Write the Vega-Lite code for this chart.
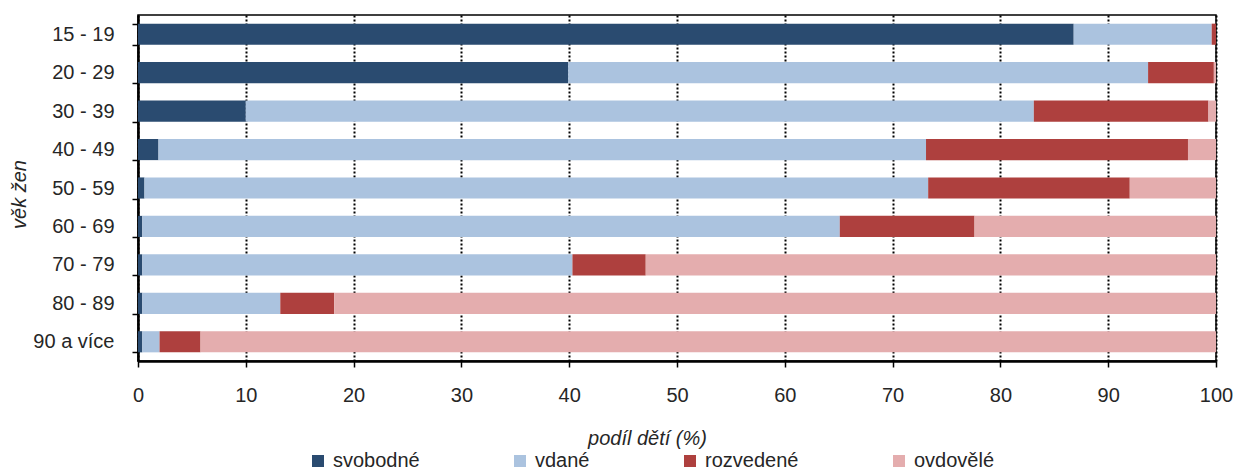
{
  "$schema": "https://vega.github.io/schema/vega-lite/v6.json",
  "width": 1078,
  "height": 346,
  "autosize": {"type": "none"},
  "padding": {"left": 138, "top": 15, "right": 21, "bottom": 111},
  "background": "white",
  "config": {
    "font": "Liberation Sans",
    "view": {"stroke": "#000000", "strokeWidth": 1.5},
    "axis": {"labelFont": "Liberation Sans", "titleFont": "Liberation Sans", "labelColor": "#262626", "titleColor": "#262626"}
  },
  "data": {
    "values": [
      {"vek": "15 - 19", "stav": "svobodné", "i": 1, "podil": 86.8},
      {"vek": "15 - 19", "stav": "vdané", "i": 2, "podil": 12.8},
      {"vek": "15 - 19", "stav": "rozvedené", "i": 3, "podil": 0.4},
      {"vek": "15 - 19", "stav": "ovdovělé", "i": 4, "podil": 0.0},
      {"vek": "20 - 29", "stav": "svobodné", "i": 1, "podil": 39.9},
      {"vek": "20 - 29", "stav": "vdané", "i": 2, "podil": 53.8},
      {"vek": "20 - 29", "stav": "rozvedené", "i": 3, "podil": 6.1},
      {"vek": "20 - 29", "stav": "ovdovělé", "i": 4, "podil": 0.2},
      {"vek": "30 - 39", "stav": "svobodné", "i": 1, "podil": 10.0},
      {"vek": "30 - 39", "stav": "vdané", "i": 2, "podil": 73.1},
      {"vek": "30 - 39", "stav": "rozvedené", "i": 3, "podil": 16.2},
      {"vek": "30 - 39", "stav": "ovdovělé", "i": 4, "podil": 0.7},
      {"vek": "40 - 49", "stav": "svobodné", "i": 1, "podil": 1.9},
      {"vek": "40 - 49", "stav": "vdané", "i": 2, "podil": 71.2},
      {"vek": "40 - 49", "stav": "rozvedené", "i": 3, "podil": 24.3},
      {"vek": "40 - 49", "stav": "ovdovělé", "i": 4, "podil": 2.6},
      {"vek": "50 - 59", "stav": "svobodné", "i": 1, "podil": 0.6},
      {"vek": "50 - 59", "stav": "vdané", "i": 2, "podil": 72.7},
      {"vek": "50 - 59", "stav": "rozvedené", "i": 3, "podil": 18.7},
      {"vek": "50 - 59", "stav": "ovdovělé", "i": 4, "podil": 8.0},
      {"vek": "60 - 69", "stav": "svobodné", "i": 1, "podil": 0.4},
      {"vek": "60 - 69", "stav": "vdané", "i": 2, "podil": 64.7},
      {"vek": "60 - 69", "stav": "rozvedené", "i": 3, "podil": 12.5},
      {"vek": "60 - 69", "stav": "ovdovělé", "i": 4, "podil": 22.4},
      {"vek": "70 - 79", "stav": "svobodné", "i": 1, "podil": 0.4},
      {"vek": "70 - 79", "stav": "vdané", "i": 2, "podil": 39.9},
      {"vek": "70 - 79", "stav": "rozvedené", "i": 3, "podil": 6.8},
      {"vek": "70 - 79", "stav": "ovdovělé", "i": 4, "podil": 52.9},
      {"vek": "80 - 89", "stav": "svobodné", "i": 1, "podil": 0.4},
      {"vek": "80 - 89", "stav": "vdané", "i": 2, "podil": 12.8},
      {"vek": "80 - 89", "stav": "rozvedené", "i": 3, "podil": 5.0},
      {"vek": "80 - 89", "stav": "ovdovělé", "i": 4, "podil": 81.8},
      {"vek": "90 a více", "stav": "svobodné", "i": 1, "podil": 0.4},
      {"vek": "90 a více", "stav": "vdané", "i": 2, "podil": 1.6},
      {"vek": "90 a více", "stav": "rozvedené", "i": 3, "podil": 3.8},
      {"vek": "90 a více", "stav": "ovdovělé", "i": 4, "podil": 94.2}
    ]
  },
  "mark": {"type": "bar", "cornerRadius": 0},
  "encoding": {
    "y": {
      "field": "vek",
      "type": "nominal",
      "sort": null,
      "scale": {"paddingInner": 0.45, "paddingOuter": 0.225},
      "axis": {
        "title": "věk žen",
        "titleFontSize": 20,
        "titleFontStyle": "italic",
        "titleFontWeight": "normal",
        "titleX": -119,
        "titleY": 179,
        "titleAngle": -90,
        "titleAlign": "center",
        "titleBaseline": "middle",
        "labelFontSize": 20,
        "labelPadding": 18,
        "tickSize": 6,
        "tickBand": "extent",
        "tickColor": "#000000",
        "tickWidth": 1.5,
        "domainColor": "#000000",
        "domainWidth": 2.5,
        "grid": false
      }
    },
    "x": {
      "field": "podil",
      "type": "quantitative",
      "stack": "zero",
      "scale": {"domain": [0, 100], "nice": false, "zero": true},
      "axis": {
        "title": "podíl dětí (%)",
        "titleFontSize": 20,
        "titleFontStyle": "italic",
        "titleFontWeight": "normal",
        "titleX": 509,
        "titleY": 77,
        "titleAlign": "center",
        "titleBaseline": "middle",
        "values": [0, 10, 20, 30, 40, 50, 60, 70, 80, 90, 100],
        "labelFontSize": 20,
        "labelPadding": 18,
        "labelFlush": false,
        "tickSize": 6,
        "tickColor": "#000000",
        "tickWidth": 1.5,
        "domainColor": "#000000",
        "domainWidth": 2.5,
        "grid": true,
        "gridColor": "#000000",
        "gridWidth": 2,
        "gridDash": [2, 2]
      }
    },
    "color": {
      "field": "stav",
      "type": "nominal",
      "scale": {
        "domain": ["svobodné", "vdané", "rozvedené", "ovdovělé"],
        "range": ["#2A4B70", "#ABC3DF", "#AE403E", "#E4ADAE"]
      },
      "legend": {
        "title": null,
        "orient": "none",
        "legendX": 170,
        "legendY": 436,
        "direction": "horizontal",
        "symbolType": "square",
        "symbolSize": 144,
        "symbolStrokeWidth": 0,
        "symbolOffset": 0,
        "labelOffset": 5,
        "labelFontSize": 20,
        "labelFont": "Liberation Sans",
        "labelColor": "#262626",
        "columnPadding": 90,
        "padding": 0
      }
    },
    "order": {"field": "i", "type": "quantitative"}
  }
}
